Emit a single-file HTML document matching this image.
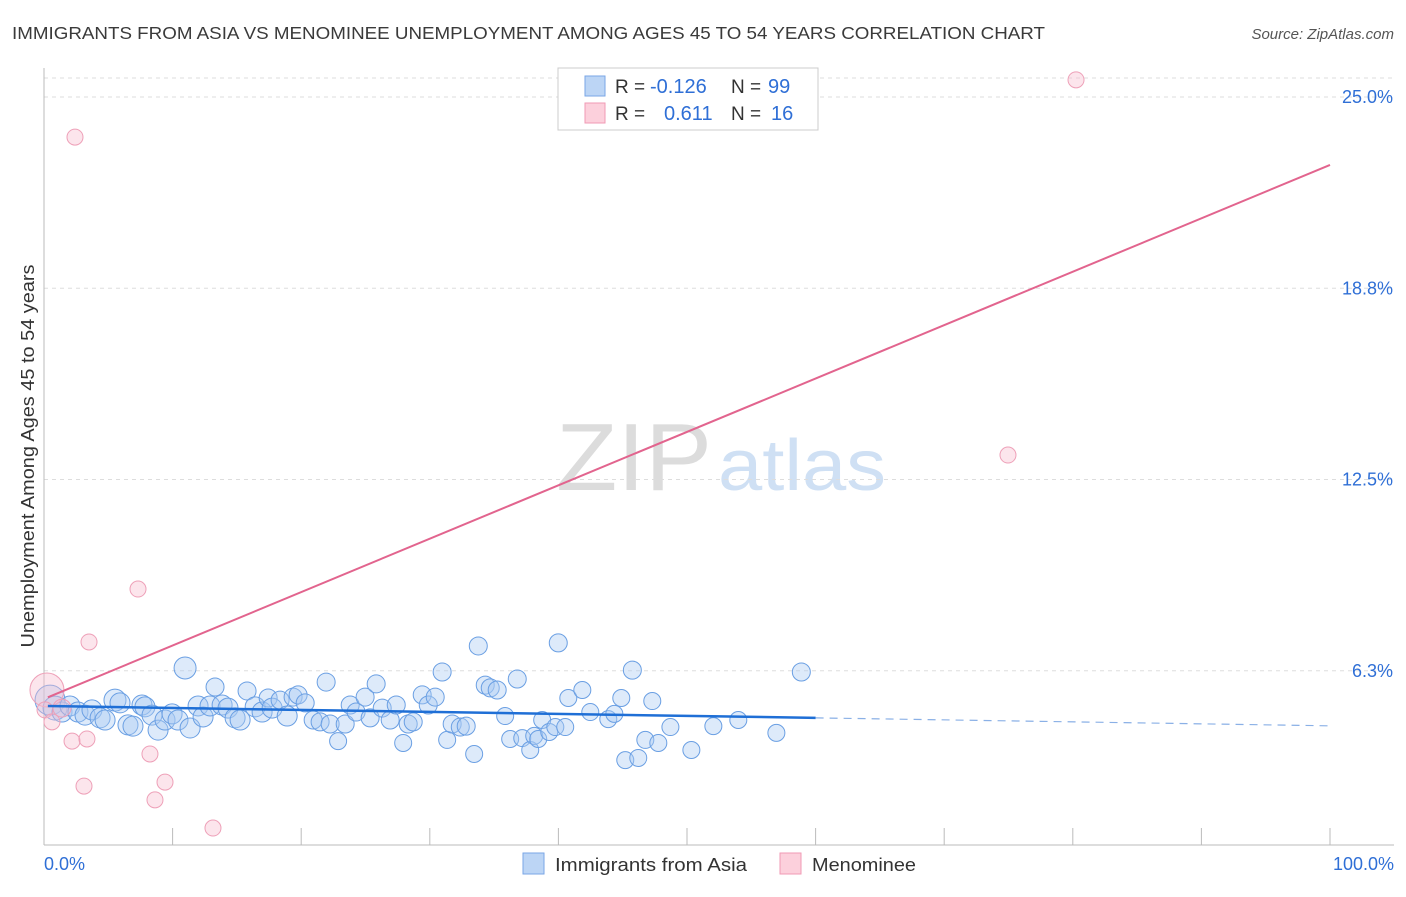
<!DOCTYPE html>
<html><head><meta charset="utf-8"><style>
body{margin:0;background:#fff;font-family:"Liberation Sans",sans-serif;}
svg text{font-family:"Liberation Sans",sans-serif;}
</style></head><body>
<svg id="chart" width="1406" height="892" xmlns="http://www.w3.org/2000/svg">
<text x="12" y="39" font-size="17.5" fill="#3a3a3a" textLength="1033" lengthAdjust="spacingAndGlyphs">IMMIGRANTS FROM ASIA VS MENOMINEE UNEMPLOYMENT AMONG AGES 45 TO 54 YEARS CORRELATION CHART</text>
<text x="1394" y="39" font-size="15" fill="#555" font-style="italic" text-anchor="end">Source: ZipAtlas.com</text>
<g>
<text x="556" y="490" font-size="96" fill="#dcdcdc" font-family="Liberation Serif" textLength="156" lengthAdjust="spacingAndGlyphs">ZIP</text>
<text x="718" y="490" font-size="72" fill="#cfe0f4" textLength="168" lengthAdjust="spacingAndGlyphs">atlas</text>
</g>
<g id="grid"></g>
<g id="axes"></g>
<g id="marks"></g>
<text transform="translate(34,456) rotate(-90)" font-size="18" fill="#333" text-anchor="middle" textLength="383" lengthAdjust="spacingAndGlyphs">Unemployment Among Ages 45 to 54 years</text>
<g>
<rect x="558" y="68" width="260" height="62" fill="#fff" stroke="#ccc"/>
<rect x="585" y="76" width="20" height="20" fill="#bcd5f5" stroke="#7aa6e6"/>
<rect x="585" y="103" width="20" height="20" fill="#fcd0dc" stroke="#f09ab4"/>
<text x="615" y="93" font-size="19" fill="#333">R =</text>
<text x="650" y="93" font-size="20" fill="#2f6fd6">-0.126</text>
<text x="731" y="93" font-size="19" fill="#333">N =</text>
<text x="768" y="93" font-size="20" fill="#2f6fd6">99</text>
<text x="615" y="120" font-size="19" fill="#333">R =</text>
<text x="664" y="120" font-size="20" fill="#2f6fd6">0.611</text>
<text x="731" y="120" font-size="19" fill="#333">N =</text>
<text x="771" y="120" font-size="20" fill="#2f6fd6">16</text>
</g>
<g>
<rect x="523" y="853" width="21" height="21" fill="#bcd5f5" stroke="#7aa6e6"/>
<text x="555" y="871" font-size="18" fill="#333" textLength="192" lengthAdjust="spacingAndGlyphs">Immigrants from Asia</text>
<rect x="780" y="853" width="21" height="21" fill="#fcd0dc" stroke="#f09ab4"/>
<text x="812" y="871" font-size="18" fill="#333" textLength="104" lengthAdjust="spacingAndGlyphs">Menominee</text>
</g>
</svg>
<script>
const yTicks=[6.25,12.5,18.75,25];
const yTickLabels=["6.3%","12.5%","18.8%","25.0%"];
const xTickLabels=["0.0%","100.0%"];
const asiaX=[0.47,0.86,1.40,2.02,2.64,3.19,3.73,4.36,4.75,5.52,5.91,6.53,6.92,7.62,7.85,8.40,8.87,9.41,9.96,10.42,10.97,11.36,11.98,12.37,12.91,13.30,13.85,14.31,14.86,15.25,15.79,16.42,16.96,17.43,17.74,18.36,18.91,19.37,19.76,20.31,20.93,21.47,21.94,22.25,22.87,23.42,23.81,24.27,24.97,25.36,25.83,26.30,26.92,27.39,27.93,28.32,28.71,29.41,29.88,30.42,30.96,31.35,31.74,32.37,32.83,33.45,33.77,34.31,34.70,35.24,35.86,36.25,36.80,37.19,37.81,38.12,38.43,38.74,39.29,39.76,39.99,40.53,40.77,41.86,42.48,43.88,44.35,44.89,45.20,45.75,46.21,46.76,47.30,47.77,48.71,50.34,52.05,53.99,56.95,58.89];
const asiaY=[5.29,5.03,4.90,5.10,4.90,4.80,4.97,4.71,4.64,5.29,5.20,4.48,4.44,5.13,5.07,4.80,4.31,4.64,4.84,4.64,6.34,4.38,5.10,4.74,5.10,5.72,5.13,5.03,4.71,4.64,5.59,5.07,4.90,5.36,5.03,5.29,4.77,5.39,5.46,5.20,4.64,4.58,5.88,4.51,3.95,4.51,5.13,4.90,5.39,4.71,5.82,5.03,4.64,5.13,3.89,4.51,4.58,5.46,5.13,5.39,6.21,3.99,4.51,4.41,4.44,3.53,7.06,5.78,5.69,5.62,4.77,4.02,5.98,4.05,3.66,4.12,4.02,4.64,4.25,4.41,7.16,4.41,5.36,5.62,4.90,4.67,4.84,5.36,3.33,6.27,3.40,3.99,5.26,3.89,4.41,3.66,4.44,4.64,4.22,6.21];
const asiaR=[15,12,10,10,10,10,10,10,10,11,10,10,10,10,10,10,10,10,10,10,11,10,10,10,10,9,10,10,10,10,9,10,10,9,10,9,10,9,9,9,9,9,9,9,8.5,9,9,9,9,9,9,9,9,9,8.5,9,9,9,9,9,9,8.5,9,9,9,8.5,9,9,9,9,8.5,8.5,9,8.5,8.5,8.5,8.5,8.5,8.5,8.5,9,8.5,8.5,8.5,8.5,8.5,8.5,8.5,8.5,9,8.5,8.5,8.5,8.5,8.5,8.5,8.5,8.5,8.5,9];
const menX=[0.23,0.08,0.62,1.40,2.41,3.50,2.18,3.34,3.11,7.31,8.24,9.41,8.63,13.14,74.96,80.25];
const menY=[5.62,4.97,4.58,5.03,23.69,7.19,3.95,4.02,2.48,8.92,3.53,2.61,2.03,1.11,13.30,25.56];
const menR=[17,8,8,9,8,8,8,8,8,8,8,8,8,8,8,8];
const asiaTrend=[5.10,4.45];
const menTrend=[5.33,22.78];
const X0=44,X1=1330,Y0=862,PPY=30.6;
const sx=v=>X0+(X1-X0)*v/100, sy=v=>Y0-v*PPY;
const NS="http://www.w3.org/2000/svg";
function mk(tag,attrs,parent){const e=document.createElementNS(NS,tag);for(const k in attrs)e.setAttribute(k,attrs[k]);document.getElementById(parent).appendChild(e);return e;}
let e;
e=mk('line',{x1:44,x2:1394,y1:78,y2:78,stroke:'#ddd','stroke-dasharray':'4,4'},'grid');


yTicks.forEach((t,i)=>{
 e=mk('line',{x1:44,x2:1394,y1:sy(t),y2:sy(t),stroke:'#ddd','stroke-dasharray':'4,4'},'grid');
 
 
 e=mk('text',{x:1393,y:sy(t)+6,'font-size':18,fill:'#2f6fd6','text-anchor':'end'},'grid');
 e.textContent=yTickLabels[i];
 
 
});
e=mk('line',{x1:44,x2:44,y1:68,y2:845,stroke:'#bbb'},'axes');


e=mk('line',{x1:44,x2:1394,y1:845,y2:845,stroke:'#bbb'},'axes');


for(let i=1;i<=10;i++){
 e=mk('line',{x1:sx(i*10),x2:sx(i*10),y1:828,y2:845,stroke:'#bbb'},'axes');
 
 
}
e=mk('text',{x:44,y:870,'font-size':18,fill:'#2f6fd6'},'axes');e.textContent=xTickLabels[0];


e=mk('text',{x:1394,y:870,'font-size':18,fill:'#2f6fd6','text-anchor':'end'},'axes');e.textContent=xTickLabels[1];


asiaX.forEach((x,i)=>{
 e=mk('circle',{cx:sx(x),cy:sy(asiaY[i]),r:asiaR[i],fill:'rgba(170,202,242,0.4)',stroke:'#6a9fe3','stroke-width':1},'marks');
 
 
});
menX.forEach((x,i)=>{
 e=mk('circle',{cx:sx(x),cy:sy(menY[i]),r:menR[i],fill:'rgba(248,190,208,0.4)',stroke:'#eea0b8','stroke-width':1},'marks');
 
 
});
const at=x=>asiaTrend[0]+(asiaTrend[1]-asiaTrend[0])*x/100;
e=mk('line',{x1:sx(0.3),y1:sy(at(0.3)),x2:sx(60),y2:sy(at(60)),stroke:'#1f6fd6','stroke-width':2.5},'marks');


e=mk('line',{x1:sx(60),y1:sy(at(60)),x2:sx(100),y2:sy(at(100)),stroke:'#8ab0e6','stroke-width':1.2,'stroke-dasharray':'8,6'},'marks');


const mt=x=>menTrend[0]+(menTrend[1]-menTrend[0])*x/100;
e=mk('line',{x1:sx(0.3),y1:sy(mt(0.3)),x2:sx(100),y2:sy(mt(100)),stroke:'#e2648e','stroke-width':2},'marks');


</script>
</body></html>
